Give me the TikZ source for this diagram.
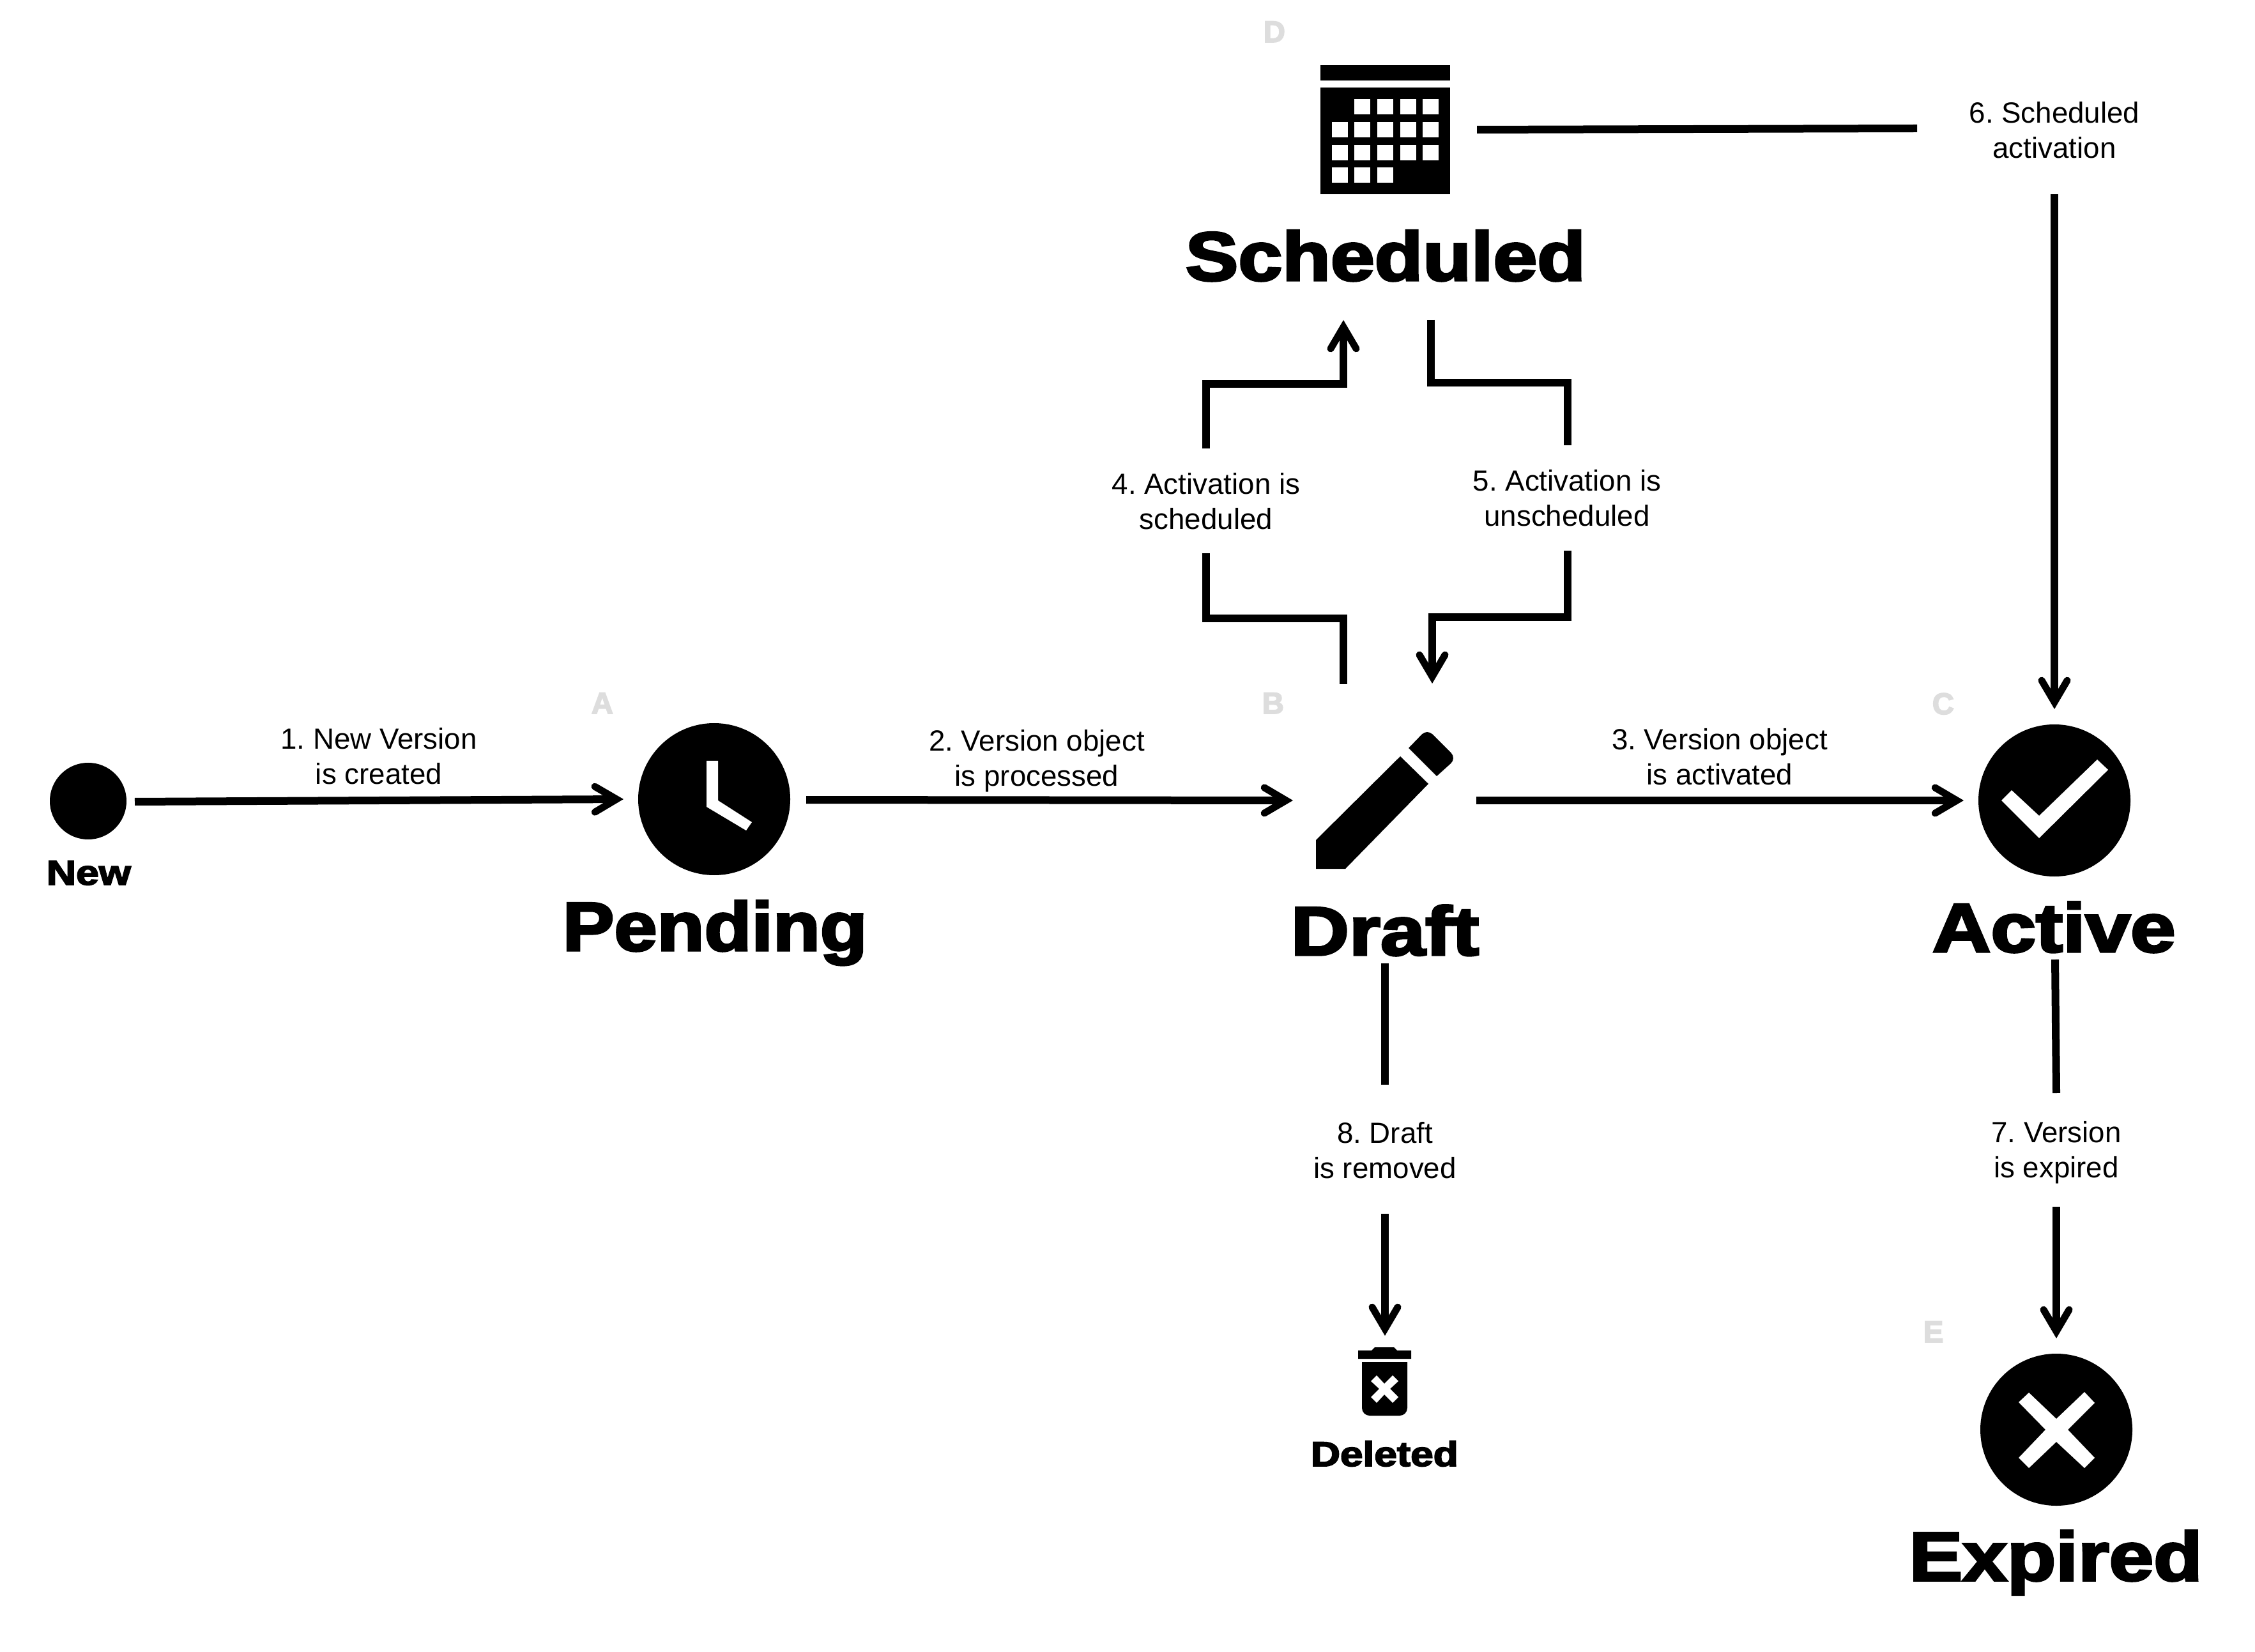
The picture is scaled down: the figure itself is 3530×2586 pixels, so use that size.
\documentclass[tikz,border=0pt]{standalone}
\usepackage{fontspec}
\usepackage{graphicx}
\usetikzlibrary{arrows.meta}
\setmainfont{Liberation Sans}
\newfontfamily\titlefont[FakeBold=3.2]{Liberation Sans Bold}
\newfontfamily\tagfont[FakeBold=3.5]{Liberation Sans Bold}
\newcommand{\titlesized}[3]{\resizebox{#1}{\height}{\titlefont\fontsize{#2}{#2}\selectfont #3}}
\tikzset{
  conn/.style={line width=3pt,line cap=butt,line join=miter,miter limit=10,black},
  arr/.style={conn,-{Straight Barb[length=8.5pt,width=10pt,line width=2.75pt,line cap=round,line join=miter]}},
  lab/.style={align=center,inner sep=0pt,font=\frenchspacing\fontsize{11.42}{13.75}\selectfont,text=black},
  disc/.style={circle,fill=black,inner sep=0pt,minimum size=59.5pt},
  title/.style={anchor=base west,inner sep=0pt,text=black},
  tag/.style={anchor=base west,inner sep=0pt,text=tagcol,font=\tagfont\fontsize{11.8}{11.8}\selectfont},
  hole/.style={fill=white},
}
\definecolor{tagcol}{HTML}{DDDDDD}
\begin{document}
\begin{tikzpicture}[x=0.25pt,y=-0.25pt]
\useasboundingbox[fill=white] (0,0) rectangle (3530,2586);

% state discs
\node[disc,minimum size=30pt] (new) at (138,1254) {};
\node[disc] (pending) at (1118,1251) {};
\node[disc] (active) at (3216,1253) {};
\node[disc] (expired) at (3219,2238) {};

% clock hands
\fill[hole] (1106,1191) -- (1124,1191) -- (1124,1253) -- (1177,1287) -- (1168,1300) -- (1106,1263) -- cycle;
% check mark
\fill[hole] (3133,1253) -- (3149,1237) -- (3192,1277) -- (3283,1189) -- (3300,1205) -- (3192,1312) -- cycle;
% cross
\fill[hole] (3176,2180) -- (3219,2221) -- (3263,2179) -- (3279,2196) -- (3237,2238) -- (3279,2282) -- (3263,2298) -- (3219,2257) -- (3176,2298) -- (3160,2282) -- (3202,2238) -- (3160,2195) -- cycle;
% pencil
\fill[black] (2060,1315) -- (2192,1184) -- (2236,1227) -- (2106,1360) -- (2060,1360) -- cycle;
\fill[black] (2205,1171) [rounded corners=3pt] -- (2234,1141) -- (2280,1187) [sharp corners] -- (2249,1215) -- cycle;
% calendar
\fill[black] (2067,102) rectangle (2270,126);
\fill[black] (2067,137) rectangle (2270,304);
\foreach \xa/\ya in {2120/155,2156/155,2192/155,2227/155,
  2085/191,2120/191,2156/191,2192/191,2227/191,
  2085/227,2120/227,2156/227,2192/227,2227/227,
  2085/262,2120/262,2156/262}
  \fill[hole] (\xa,\ya) rectangle ++(24.5,24.5);
% trash can
\fill[black] (2126,2114) -- (2147,2114) -- (2152,2109) -- (2182,2109) -- (2187,2114) -- (2209,2114) -- (2209,2127) -- (2126,2127) -- cycle;
\fill[black] (2132,2132) -- (2203,2132) [rounded corners=3pt] -- (2203,2216) -- (2132,2216) [sharp corners] -- cycle;
\fill[hole] (2155,2153) -- (2167,2166) -- (2180,2153) -- (2189,2162) -- (2176,2174) -- (2189,2187) -- (2180,2196) -- (2167,2183) -- (2155,2196) -- (2146,2187) -- (2159,2174) -- (2146,2162) -- cycle;

% titles
\node[title] (tNew) at (72,1385) {\titlesized{33pt}{13.6}{New}};
\node[title] (tPending) at (880,1488) {\titlesized{119.2pt}{27}{Pending}};
\node[title] (tDraft) at (2020,1495) {\titlesized{73.6pt}{27}{Draft}};
\node[title] (tActive) at (3024,1490) {\titlesized{95.2pt}{27}{Active}};
\node[title] (tExpired) at (2988,2474) {\titlesized{114.7pt}{27}{Expired}};
\node[title] (tScheduled) at (1855,439) {\titlesized{156.5pt}{27}{Scheduled}};
\node[title] (tDeleted) at (2051,2295) {\titlesized{57.75pt}{13.6}{Deleted}};

% grey letters
\node[tag] (tagA) at (925,1117) {A};
\node[tag] (tagB) at (1975,1117) {B};
\node[tag] (tagC) at (3024,1118) {C};
\node[tag] (tagD) at (1977,66) {D};
\node[tag] (tagE) at (3010,2101) {E};

% connector labels
\node[lab] (l1) at (593,1184) {1. New Version\\is created};
\node[lab] (l2) at (1623,1191) {2. Version object\\is processed};
\node[lab] (l3) at (2692,1185) {3. Version object\\is activated};
\node[lab] (l4) at (1888,785) {4. Activation is\\scheduled};
\node[lab] (l5) at (2453,780) {5. Activation is\\unscheduled};
\node[lab] (l6) at (3216,204) {6. Scheduled\\activation};
\node[lab] (l7) at (3219,1804) {7. Version\\is expired};
\node[lab] (l8) at (2168,1801) {8. Draft\\is removed};

% connector end points
\coordinate (a1s) at (211,1255); \coordinate (a1e) at (976,1251);
\coordinate (a2s) at (1262,1252); \coordinate (a2e) at (2024,1253);
\coordinate (a3s) at (2311,1253); \coordinate (a3e) at (3074,1253);
\coordinate (a4s) at (2103,1071); \coordinate (a4b) at (1888,968); \coordinate (a4c) at (1888,866);
\coordinate (a4d) at (1888,702); \coordinate (a4f) at (1888,601); \coordinate (a4e) at (2103,501);
\coordinate (a5s) at (2240,501); \coordinate (a5b) at (2454,599); \coordinate (a5c) at (2454,697);
\coordinate (a5d) at (2454,862); \coordinate (a5f) at (2454,966); \coordinate (a5e) at (2242,1070);
\coordinate (a6s) at (2312,203); \coordinate (a6c) at (3001,201);
\coordinate (a6d) at (3216,304); \coordinate (a6e) at (3216,1110);
\coordinate (a7s) at (3217,1502); \coordinate (a7c) at (3219,1711);
\coordinate (a7d) at (3219,1889); \coordinate (a7e) at (3219,2095);
\coordinate (a8s) at (2168,1508); \coordinate (a8c) at (2168,1698);
\coordinate (a8d) at (2168,1900); \coordinate (a8e) at (2168,2091);

% connectors
\draw[arr] (a1s) -- (a1e);
\draw[arr] (a2s) -- (a2e);
\draw[arr] (a3s) -- (a3e);
\draw[conn] (a4s) |- (a4b) -- (a4c);
\draw[arr] (a4d) |- (a4f) -| (a4e);
\draw[conn] (a5s) |- (a5b) -- (a5c);
\draw[arr] (a5d) -- (a5f) -| (a5e);
\draw[conn] (a6s) -- (a6c);
\draw[arr] (a6d) -- (a6e);
\draw[conn] (a7s) -- (a7c);
\draw[arr] (a7d) -- (a7e);
\draw[conn] (a8s) -- (a8c);
\draw[arr] (a8d) -- (a8e);
\end{tikzpicture}
\end{document}
